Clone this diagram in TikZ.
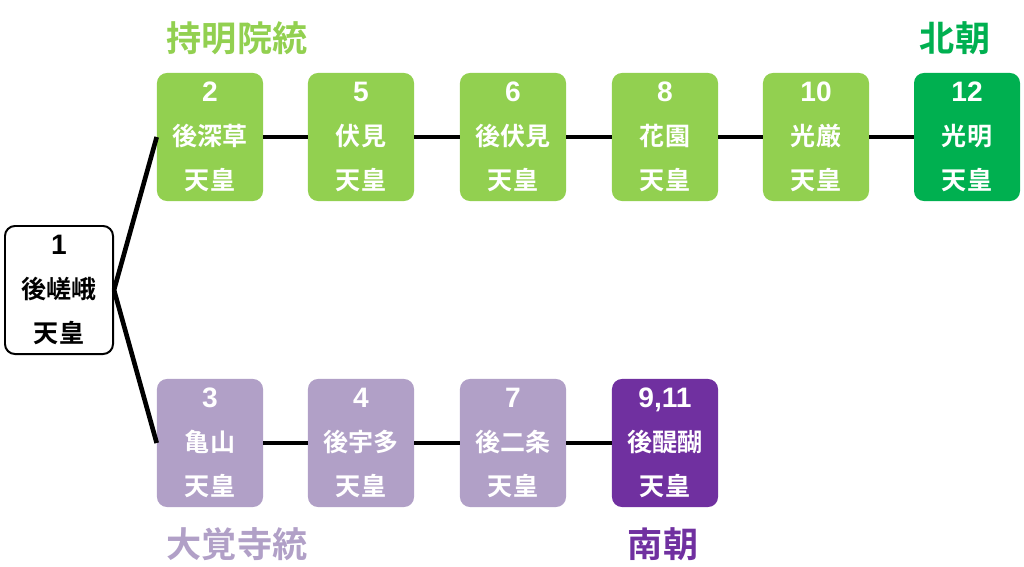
\documentclass[tikz,border=0pt]{standalone}
\usepackage{fontspec}
\newfontfamily\jpfont{Noto Sans CJK JP Bold}
\newfontfamily\numfont{Liberation Sans}
\usetikzlibrary{positioning}
\definecolor{lgreen}{HTML}{92D050}
\definecolor{dgreen}{HTML}{00B050}
\definecolor{lpurple}{HTML}{B1A0C7}
\definecolor{dpurple}{HTML}{7030A0}
\newcommand{\reign}[1]{{\numfont\bfseries\fontsize{20}{31.3}\selectfont #1}}

\tikzset{
  emperor/.style={rectangle,rounded corners=0.25cm,minimum width=2.65cm,minimum height=3.2cm,inner sep=0pt,align=center,text=white,font=\jpfont\fontsize{17.8}{31.3}\selectfont},
  jimyoin/.style={emperor,fill=lgreen},
  hokucho/.style={emperor,fill=dgreen},
  daikakuji/.style={emperor,fill=lpurple},
  nancho/.style={emperor,fill=dpurple},
  line/.style={line width=3.3pt},
  lineage/.style={font=\jpfont\fontsize{25}{30}\selectfont}
}

\begin{document}
\begin{tikzpicture}[x=0.025cm,y=-0.025cm]
\useasboundingbox (0,0) rectangle (1024,566);
% founder
\node[emperor,fill=white,draw=black,line width=1.4pt,text=black,minimum width=2.7cm] (gosaga) at (59,290) {\reign{1}\\後嵯峨\\天皇};
% upper row
\node[jimyoin] (gofukakusa) at (210,137) {\reign{2}\\後深草\\天皇};
\node[jimyoin] (fushimi) at (361,137) {\reign{5}\\伏見\\天皇};
\node[jimyoin] (gofushimi) at (513,137) {\reign{6}\\後伏見\\天皇};
\node[jimyoin] (hanazono) at (665,137) {\reign{8}\\花園\\天皇};
\node[jimyoin] (kogon) at (816,137) {\reign{10}\\光厳\\天皇};
\node[hokucho] (komyo) at (967,137) {\reign{12}\\光明\\天皇};
% lower row
\node[daikakuji] (kameyama) at (210,443) {\reign{3}\\亀山\\天皇};
\node[daikakuji] (gouda) at (361,443) {\reign{4}\\後宇多\\天皇};
\node[daikakuji] (gonijo) at (513,443) {\reign{7}\\後二条\\天皇};
\node[nancho] (godaigo) at (665,443) {\reign{9,11}\\後醍醐\\天皇};

\draw[line] (gosaga.east) -- (gofukakusa.west);
\draw[line] (gosaga.east) -- (kameyama.west);
\draw[line] (gofukakusa) -- (fushimi);
\draw[line] (fushimi) -- (gofushimi);
\draw[line] (gofushimi) -- (hanazono);
\draw[line] (hanazono) -- (kogon);
\draw[line] (kogon) -- (komyo);
\draw[line] (kameyama) -- (gouda);
\draw[line] (gouda) -- (gonijo);
\draw[line] (gonijo) -- (godaigo);

\node[lineage,text=lgreen] (jimyointo) at (237,38) {持明院統};
\node[lineage,text=dgreen] (hokuchoname) at (955,38) {北朝};
\node[lineage,text=lpurple] (daikakujito) at (237,544) {大覚寺統};
\node[lineage,text=dpurple] (nanchoname) at (663,544) {南朝};
\end{tikzpicture}
\end{document}
